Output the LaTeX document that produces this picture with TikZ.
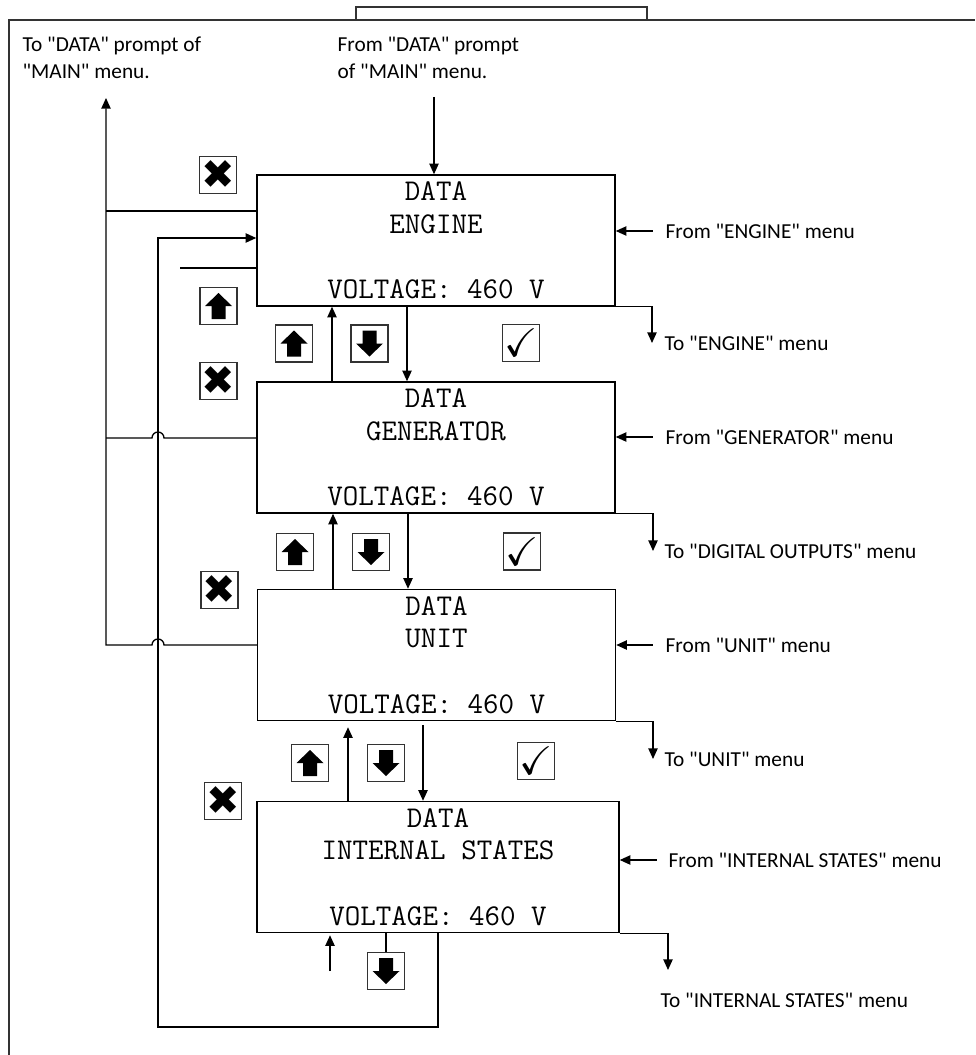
\documentclass[tikz,border=0pt]{standalone}
\usepackage{fontspec}
\usepackage{amssymb}
\setmainfont{Carlito}[Ligatures=TeXOff]
\newfontfamily\dvsym{DejaVu Sans}
\usetikzlibrary{arrows.meta,calc}
\tikzset{
  screen/.style={draw, line width=1.1pt, inner sep=0pt, minimum width=268.5pt, minimum height=98.25pt, align=center, font={\ttfamily\fontsize{22.6pt}{24.4pt}\selectfont}},
  lbl/.style={anchor=west, inner sep=0pt, font=\fontsize{16pt}{20.25pt}\selectfont, align=left},
  icon/.style={draw=black!80, line width=1.1pt, minimum size=27.75pt, inner sep=0pt},
  xglyph/.style={icon, font={\dvsym\fontsize{30pt}{30pt}\selectfont}},
  chkglyph/.style={icon, font=\fontsize{30pt}{30pt}\selectfont},
  pics/upicon/.style={code={\node[icon] (-box) {}; \fill (0,-13) -- (13.5,0) -- (7,0) -- (7,13) -- (-7,13) -- (-7,0) -- (-13.5,0) -- cycle;}},
  pics/downicon/.style={code={\node[icon] (-box) {}; \fill (0,13) -- (13.5,0) -- (7,0) -- (7,-13) -- (-7,-13) -- (-7,0) -- (-13.5,0) -- cycle;}},
}
\begin{document}
\begin{tikzpicture}[x=0.75pt,y=-0.75pt, line width=1pt, >={Triangle[length=8pt,width=7pt]}]
\useasboundingbox (0,0) rectangle (975,1055);
% frame
\draw[black!80] (9,1055) -- (9,20) -- (975,20);
\draw[black!80] (356,20) -- (356,7) -- (647,7) -- (647,20);
% screens
\node[screen] (b1) at (436,240.5) {DATA\\ENGINE\\~\\VOLTAGE: 460 V};
\node[screen] (b2) at (436,447.5) {DATA\\GENERATOR\\~\\VOLTAGE: 460 V};
\node[screen] (b3) at (436.5,655) {DATA\\UNIT\\~\\VOLTAGE: 460 V};
\node[screen, minimum width=271.5pt] (b4) at (438,867) {DATA\\INTERNAL STATES\\~\\VOLTAGE: 460 V};
% labels
\node[lbl] (tmain) at (22,57.5) {To "DATA" prompt of\\"MAIN" menu.};
\node[lbl] (fmain) at (337,57.5) {From "DATA" prompt\\of "MAIN" menu.};
\node[lbl] (fe) at (665,231) {From "ENGINE" menu};
\node[lbl] (fg) at (665,437) {From "GENERATOR" menu};
\node[lbl] (fu) at (665,645) {From "UNIT" menu};
\node[lbl] (fi) at (668,860) {From "INTERNAL STATES" menu};
\node[lbl] (te) at (664,343) {To "ENGINE" menu};
\node[lbl] (td) at (664,551) {To "DIGITAL OUTPUTS" menu};
\node[lbl] (tu) at (664,759) {To "UNIT" menu};
\node[lbl] (ti) at (660,1000) {To "INTERNAL STATES" menu};
% icons
\node[xglyph] (x1) at (218,175) {✖};
\pic (ul) at (218.5,306) {upicon};
\pic (u1) at (294,343.5) {upicon};
\pic (d1) at (369.5,343.5) {downicon};
\node[xglyph] (x2) at (218.5,381) {✖};
\node[chkglyph] (c1) at (521,343) {$\checkmark$};
\pic (u2) at (295,552) {upicon};
\pic (d2) at (371,552) {downicon};
\node[xglyph] (x3) at (219.5,590) {✖};
\node[chkglyph] (c2) at (522,551.5) {$\checkmark$};
\pic (u3) at (310,763) {upicon};
\pic (d3) at (386,763) {downicon};
\node[xglyph] (x4) at (223,801) {✖};
\node[chkglyph] (c3) at (536,761) {$\checkmark$};
\pic (d4) at (386,971) {downicon};
% coordinates
\coordinate (fmainEnd) at (434,97);
\coordinate (tmainEnd) at (106,98);
\coordinate (stub) at (180,268);
\coordinate (upfree) at (330,971);
\coordinate (tiEnd) at (668,970);
% top connectors
\draw[->] (fmainEnd) -- (fmainEnd |- b1.north);
\draw[->] (b3.west |- 0,645) -- (164,645) arc[start angle=0,end angle=180,radius=4.5pt] -- (106,645) -- (tmainEnd);
\draw (b2.west |- 0,438) -- (164,438) arc[start angle=0,end angle=180,radius=4.5pt] -- (106,438);
\draw (b1.west |- 0,211) -- (106,211);
\draw[->] (b4.south) -- (438,1027) -- (158,1027) -- (158,238) -- (b1.west |- 0,238);
\draw (b1.west |- stub) -- (stub);
% between screens
\draw[->] (b2.north -| 332,0) -- (b1.south -| 332,0);
\draw[->] (b1.south -| 407,0) -- (b2.north -| 407,0);
\draw[->] (b3.north -| 333,0) -- (b2.south -| 333,0);
\draw[->] (b2.south -| 408,0) -- (b3.north -| 408,0);
\draw[->] (b4.north -| 348,0) -- ($(b3.south -| 348,0)+(0,6)$);
\draw[->] ($(b3.south -| 423,0)+(0,4)$) -- (b4.north -| 423,0);
\draw[->] (upfree) -- ($(b4.south -| upfree)+(0,2)$);
\draw (b4.south -| d4-box.north) -- (d4-box.north);
% right side
\draw[<-] (b1.east |- fe.west) -- ($(fe.west)+(-12,0)$);
\draw[<-] (b2.east |- fg.west) -- ($(fg.west)+(-12,0)$);
\draw[<-] (b3.east |- fu.west) -- ($(fu.west)+(-12,0)$);
\draw[<-] (b4.east |- fi.west) -- ($(fi.west)+(-11,0)$);
\draw[->] (b1.south east) -| ($(te.west)+(-12,0)$);
\draw[->] (b2.south east) -| ($(td.west)+(-11,0)$);
\draw[->] (b3.south east) -| ($(tu.west)+(-11,0)$);
\draw[->] (b4.south east) -| (tiEnd);
\end{tikzpicture}
\end{document}
